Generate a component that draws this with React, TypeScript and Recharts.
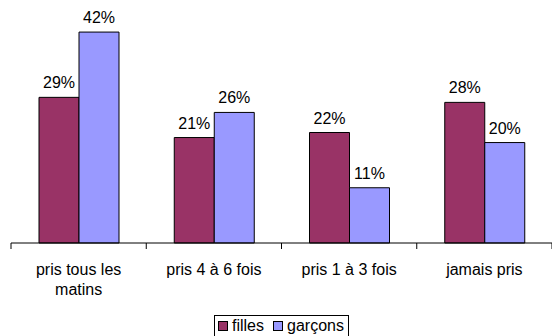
import { BarChart, Bar, XAxis, YAxis, Legend, LabelList, Text } from "recharts";

const categories = ["pris tous les matins", "pris 4 à 6 fois", "pris 1 à 3 fois", "jamais pris"];
const filles = [29, 21, 22, 28];
const garcons = [42, 26, 11, 20];

const seriesNames = { filles: "filles", garcons: "garçons" };
const colors = { filles: "#993366", garcons: "#9999FF" };

const data = categories.map((name, i) => ({
  name,
  filles: filles[i],
  garcons: garcons[i],
}));

const FONT = "'Liberation Sans', Arial, sans-serif";

function CategoryTick(props: any) {
  const { x, y, payload, index, visibleTicksCount } = props;
  const half = payload.offset ?? 541 / 8;
  return (
    <g>
      <line x1={x - half} x2={x - half} y1={y} y2={y + 6} stroke="#000" />
      {index === visibleTicksCount - 1 && (
        <line x1={x + half} x2={x + half} y1={y} y2={y + 6} stroke="#000" />
      )}
      <Text
        x={x}
        y={y + 21}
        width={100}
        textAnchor="middle"
        verticalAnchor="start"
        lineHeight="20px"
        fontSize={16}
        fontFamily={FONT}
        fill="#000"
      >
        {payload.value}
      </Text>
    </g>
  );
}

function LegendBox() {
  const items = [
    { key: "filles", label: seriesNames.filles, color: colors.filles },
    { key: "garcons", label: seriesNames.garcons, color: colors.garcons },
  ];
  return (
    <div
      style={{
        display: "flex",
        alignItems: "center",
        border: "1px solid #000",
        padding: "1px 4px 6px 3px",
        fontFamily: FONT,
        fontSize: 16,
        lineHeight: "18px",
        background: "#fff",
      }}
    >
      {items.map((it, i) => (
        <span key={it.key} style={{ display: "flex", alignItems: "center", marginLeft: i ? 9 : 0 }}>
          <span
            style={{
              width: 8,
              height: 8,
              background: it.color,
              border: "1px solid #000",
              marginRight: 4,
              display: "inline-block",
            }}
          />
          {it.label}
        </span>
      ))}
    </div>
  );
}

export default function App() {
  return (
    <div style={{ width: 552, height: 336, overflow: "hidden", position: "relative" }}>
      <style>{`body{margin:0}`}</style>
      <BarChart
        width={552}
        height={336}
        data={data}
        margin={{ top: 17, right: 0, bottom: 0, left: 11 }}
        barCategoryGap={28}
        barGap={0}
        style={{ fontFamily: FONT }}
      >
        <XAxis
          dataKey="name"
          height={93}
          interval={0}
          tickLine={false}
          tickSize={0}
          tickMargin={0}
          axisLine={{ stroke: "#000", strokeWidth: 1 }}
          tick={<CategoryTick />}
        />
        <YAxis hide domain={[0, 45]} />
        <Legend
          layout="horizontal"
          verticalAlign="middle"
          align="center"
          content={<LegendBox />}
          wrapperStyle={{ top: 315, left: 214, width: "auto", height: "auto" }}
        />
        <Bar dataKey="filles" fill={colors.filles} stroke="#000" strokeWidth={1} isAnimationActive={false}>
          <LabelList
            dataKey="filles"
            position="top"
            offset={9}
            formatter={(v: any) => `${v}%`}
            fill="#000"
            fontSize={16}
            fontFamily={FONT}
          />
        </Bar>
        <Bar dataKey="garcons" fill={colors.garcons} stroke="#000" strokeWidth={1} isAnimationActive={false}>
          <LabelList
            dataKey="garcons"
            position="top"
            offset={9}
            formatter={(v: any) => `${v}%`}
            fill="#000"
            fontSize={16}
            fontFamily={FONT}
          />
        </Bar>
      </BarChart>
    </div>
  );
}
